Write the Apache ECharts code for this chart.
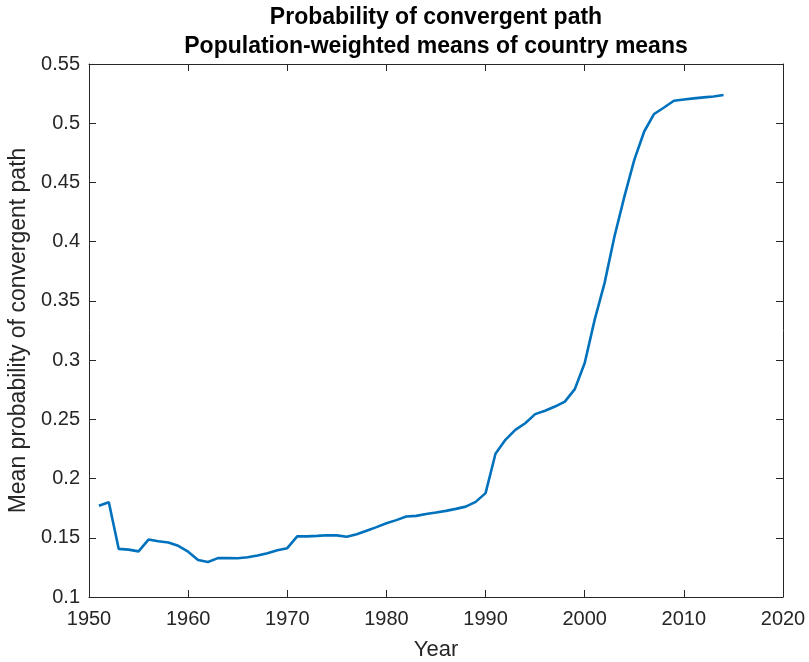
<!DOCTYPE html>
<html>
<head>
<meta charset="utf-8">
<script src="https://cdn.jsdelivr.net/npm/echarts@6/dist/echarts.min.js"></script>
<style>
  html, body { margin: 0; padding: 0; background: #fff; }
  #chart { width: 809px; height: 662px; }
</style>
</head>
<body>
<div id="chart"></div>
<script>
// Years 1951–2014
const years = [];
for (let y = 1951; y <= 2014; y++) years.push(y);

// Population-weighted mean probability of convergent path
const meanProb = [
  0.177, 0.180, 0.1406, 0.140, 0.1385, 0.1485, 0.147, 0.146, 0.1432, 0.1383,
  0.1313, 0.1296, 0.1328, 0.1328, 0.1327, 0.1336, 0.135, 0.137, 0.1395, 0.1412,
  0.1512, 0.1512, 0.1516, 0.1521, 0.152, 0.1508, 0.153, 0.156, 0.159, 0.1623,
  0.1649, 0.1679, 0.1685, 0.170, 0.1713, 0.1727, 0.1744, 0.1763, 0.1803, 0.1877,
  0.2209, 0.2327, 0.2411, 0.2467, 0.2544, 0.2572, 0.2608, 0.265, 0.2755, 0.2975,
  0.334, 0.365, 0.4044, 0.438, 0.469, 0.493, 0.5078, 0.5133, 0.519, 0.520,
  0.521, 0.5218, 0.5226, 0.5238
];

const xTicks = { min: 1950, max: 2020, interval: 10 };
const yTicks = { min: 0.1, max: 0.55, interval: 0.05 };

const titleText = 'Probability of convergent path\nPopulation-weighted means of country means';
const xName = 'Year';
const yName = 'Mean probability of convergent path';

const axisColor = '#262626';
const font = 'Liberation Sans, Arial, Helvetica, sans-serif';

const chart = echarts.init(document.getElementById('chart'), null, { renderer: 'canvas' });

const baseAxisLine = { show: true, lineStyle: { color: axisColor, width: 1 } };
const baseTick = { show: true, inside: true, length: 7, lineStyle: { color: axisColor, width: 1 } };

chart.setOption({
  animation: false,
  backgroundColor: '#ffffff',
  title: {
    text: titleText,
    left: 436,
    top: 3,
    padding: 0,
    textAlign: 'center',
    textStyle: { fontFamily: font, fontSize: 23, fontWeight: 'bold', color: '#000', lineHeight: 29 }
  },
  grid: { left: 89, right: 26, top: 64, bottom: 65, containLabel: false, outerBoundsMode: 'none' },
  xAxis: [
    {
      type: 'value', position: 'bottom',
      min: xTicks.min, max: xTicks.max, interval: xTicks.interval,
      name: xName, nameLocation: 'middle', nameGap: 42,
      nameTextStyle: { fontFamily: font, fontSize: 22, color: axisColor },
      axisLine: baseAxisLine, axisTick: baseTick,
      axisLabel: { fontFamily: font, fontSize: 20, color: axisColor, margin: 12, formatter: v => String(v) },
      splitLine: { show: false }
    },
    {
      type: 'value', position: 'top',
      min: xTicks.min, max: xTicks.max, interval: xTicks.interval,
      axisLine: baseAxisLine, axisTick: baseTick,
      axisLabel: { show: false }, splitLine: { show: false }
    }
  ],
  yAxis: [
    {
      type: 'value', position: 'left',
      min: yTicks.min, max: yTicks.max, interval: yTicks.interval,
      name: yName, nameLocation: 'middle', nameGap: 59, nameRotate: 90,
      nameTextStyle: { fontFamily: font, fontSize: 23, color: axisColor },
      axisLine: baseAxisLine, axisTick: baseTick,
      axisLabel: {
        fontFamily: font, fontSize: 20, color: axisColor, margin: 9,
        formatter: v => String(parseFloat(v.toFixed(2)))
      },
      splitLine: { show: false }
    },
    {
      type: 'value', position: 'right',
      min: yTicks.min, max: yTicks.max, interval: yTicks.interval,
      axisLine: baseAxisLine, axisTick: baseTick,
      axisLabel: { show: false }, splitLine: { show: false }
    }
  ],
  series: [
    {
      type: 'line',
      xAxisIndex: 0, yAxisIndex: 0,
      data: years.map((y, i) => [y, meanProb[i]]),
      showSymbol: false,
      lineStyle: { color: '#0072BD', width: 2.6 },
      itemStyle: { color: '#0072BD' }
    }
  ]
});
</script>
</body>
</html>
